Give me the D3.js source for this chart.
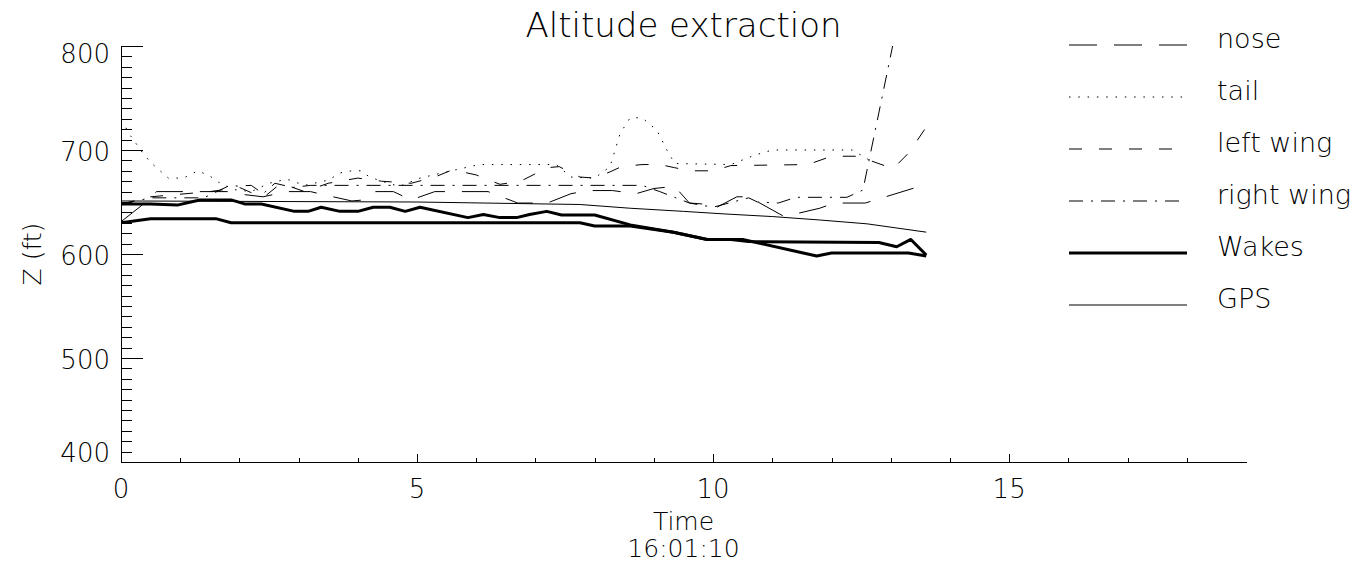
<!DOCTYPE html>
<html>
<head>
<meta charset="utf-8">
<script src="https://cdn.jsdelivr.net/npm/d3@7"></script>
<style>
  body { margin: 0; background: #fff; }
  text { font-family: "DejaVu Sans", sans-serif; font-weight: 200; fill: #000; }
</style>
</head>
<body>
<svg id="chart"></svg>
<script>
// values (time in s after 16:01:10, Z in ft)
var noseT = [0, 0.4, 0.6, 1.8, 2.1, 2.4, 2.8, 3.2, 3.5, 3.9, 4.1, 4.3, 4.6, 4.9, 5.3, 6.2, 6.7, 7.2, 7.6, 7.9, 8.3, 8.7, 9.0, 9.35, 9.6, 9.85, 10.0, 10.4, 10.6, 11.2, 11.8, 12.05, 12.57, 13.6]
var noseZ = [631, 649, 660, 660, 657, 655, 660, 660, 656, 651, 652, 660, 660, 652, 660, 660, 649, 649, 658, 661, 661, 658, 663, 665, 649, 648, 643, 655, 655, 636, 644, 649, 649, 667]

var tailT = [0, 0.17, 0.37, 0.5, 0.8, 1.05, 1.3, 1.5, 1.65, 1.9, 2.2, 2.5, 2.8, 3.1, 3.5, 3.7, 3.9, 4.05, 4.2, 4.4, 4.7, 5.05, 5.5, 6.05, 7.35, 7.6, 8.0, 8.26, 8.43, 8.6, 8.8, 9.05, 9.22, 9.35, 10.3, 10.7, 11.0, 12.35, 12.65]
var tailZ = [729, 713, 697, 688, 673, 673, 680, 675, 669, 662, 660, 668, 672, 666, 671, 678, 680, 680, 674, 670, 665, 673, 679, 686, 686, 674, 673, 684, 716, 731, 731, 719, 700, 687, 686, 695, 700, 700, 690]

var leftT = [0, 0.5, 1.5, 2.0, 2.4, 2.7, 3.1, 3.5, 4.0, 4.4, 4.9, 5.3, 5.6, 6.0, 6.4, 6.75, 7.2, 7.4, 7.75, 8.0, 8.26, 8.45, 8.8, 9.1, 9.35, 9.6, 10.0, 10.3, 11.6, 12.0, 12.45, 13.04, 13.3, 13.6]
var leftZ = [648, 655, 660, 664, 654, 668, 660, 668, 673, 670, 668, 674, 681, 676, 667, 670, 683, 684, 674, 673, 679, 684, 686, 686, 683, 680, 680, 685, 686, 694, 694, 682, 697, 722]

var rightT = [0, 0.5, 1.4, 1.8, 2.2, 2.4, 2.6, 2.9, 3.2, 8.8, 9.1, 9.6, 10.0, 10.6, 10.75, 11.1, 11.4, 12.26, 12.53, 13.05]
var rightZ = [648, 654, 654, 665, 666, 658, 668, 664, 666, 666, 660, 649, 645, 654, 650, 649, 654.5, 654.5, 661.5, 805]

var wakesAT = [0, 0.5, 1.6, 1.86, 7.75, 8.0, 8.6, 9.33, 9.9, 10.5, 11.75, 12.0, 13.3, 13.6]
var wakesAZ = [630, 634, 634, 630, 630, 627, 627, 621, 614, 614, 598, 601, 601, 598]

var wakesBT = [0, 0.5, 0.95, 1.33, 1.86, 2.1, 2.37, 2.93, 3.16, 3.38, 3.7, 4.0, 4.26, 4.54, 4.8, 5.05, 5.86, 6.12, 6.4, 6.68, 6.9, 7.19, 7.44, 8.0, 8.6, 9.33, 9.9, 10.3, 10.6, 12.8, 13.1, 13.34, 13.6]
var wakesBZ = [648, 648, 647, 652, 652, 648, 648, 641, 641, 645, 641, 641, 645, 645, 641, 645, 635, 638, 635, 635, 638, 641, 637.5, 637.5, 628, 621, 614, 614, 612, 611, 607, 614, 599]

var gpsT = [0, 5, 7.75, 8.6, 9.5, 10.2, 11.0, 11.8, 12.6, 13.6]
var gpsZ = [651, 650, 647.6, 644, 641, 638.5, 636, 632.7, 629, 621]

var yMajor = [400, 500, 600, 700, 800]
var xMajor = [0, 5, 10, 15]
var legendNames = ["nose", "tail", "left wing", "right wing", "Wakes", "GPS"]

const W = 1371, H = 574
const plot = { left: 121, right: 1246, top: 46, bottom: 462 }

const svg = d3.select("#chart").attr("width", W).attr("height", H)

const x = d3.scaleLinear().domain([0, 19]).range([plot.left, plot.right])
const y = d3.scaleLinear().domain([400, 800]).range([plot.bottom, plot.top])

// IDL style line styles
const styles = {
  "nose": { dash: "28,17", width: 1 },
  "tail": { dash: "1.5,7.8", width: 1 },
  "left wing": { dash: "13,17", width: 1 },
  "right wing": { dash: "14,8,2,8", width: 1 },
  "Wakes": { dash: null, width: 3 },
  "GPS": { dash: null, width: 1 }
}

function zip(ts, zs) { return ts.map((t, i) => ({ t: t, z: zs[i] })) }

const series = [
  { name: "nose", pts: zip(noseT, noseZ) },
  { name: "tail", pts: zip(tailT, tailZ) },
  { name: "left wing", pts: zip(leftT, leftZ) },
  { name: "right wing", pts: zip(rightT, rightZ) },
  { name: "Wakes", pts: zip(wakesAT, wakesAZ) },
  { name: "Wakes", pts: zip(wakesBT, wakesBZ) },
  { name: "GPS", pts: zip(gpsT, gpsZ) }
]

svg.append("clipPath").attr("id", "clip")
  .append("rect")
  .attr("x", plot.left).attr("y", plot.top)
  .attr("width", plot.right - plot.left).attr("height", plot.bottom - plot.top)

const line = d3.line().x(d => x(d.t)).y(d => y(d.z))

svg.append("g").attr("clip-path", "url(#clip)")
  .selectAll("path")
  .data(series)
  .join("path")
  .attr("d", d => line(d.pts))
  .attr("fill", "none")
  .attr("stroke", "#000")
  .attr("stroke-width", d => styles[d.name].width)
  .attr("stroke-dasharray", d => styles[d.name].dash)
  .attr("stroke-linejoin", "round")

// y axis: ticks point inward
const yMinor = d3.range(400, 801, 10).filter(v => v % 100 != 0)
svg.append("g")
  .attr("transform", `translate(${plot.left},0)`)
  .call(d3.axisLeft(y).tickValues(yMinor).tickSize(-11).tickSizeOuter(0).tickFormat(""))
svg.append("g")
  .attr("transform", `translate(${plot.left},0)`)
  .call(d3.axisLeft(y).tickValues(yMajor).tickSize(-22).tickSizeOuter(0).tickFormat(""))

// x axis
const xMinor = d3.range(0, 19, 1).filter(v => v % 5 != 0)
svg.append("g")
  .attr("transform", `translate(0,${plot.bottom})`)
  .call(d3.axisBottom(x).tickValues(xMinor).tickSize(-4).tickSizeOuter(0).tickFormat(""))
svg.append("g")
  .attr("transform", `translate(0,${plot.bottom})`)
  .call(d3.axisBottom(x).tickValues(xMajor).tickSize(-8).tickSizeOuter(0).tickFormat(""))

svg.selectAll(".domain, .tick line").attr("stroke", "#000").attr("shape-rendering", "crispEdges")

// tick labels
svg.selectAll(".ylab")
  .data(yMajor)
  .join("text")
  .attr("x", plot.left - 11)
  .attr("y", v => Math.max(plot.top + 8, Math.min(plot.bottom - 9, y(v) + 2)))
  .attr("text-anchor", "end")
  .attr("dominant-baseline", "central")
  .style("font-size", "26px")
  .text(v => v)

svg.selectAll(".xlab")
  .data(xMajor)
  .join("text")
  .attr("x", v => x(v))
  .attr("y", plot.bottom + 36)
  .attr("text-anchor", "middle")
  .style("font-size", "26px")
  .text(v => v)

const cx = (plot.left + plot.right) / 2
svg.append("text").attr("x", cx).attr("y", 37).attr("text-anchor", "middle")
  .style("font-size", "34px").text("Altitude extraction")
svg.append("text").attr("x", cx).attr("y", 530).attr("text-anchor", "middle")
  .style("font-size", "25px").text("Time")
svg.append("text").attr("x", cx).attr("y", 557).attr("text-anchor", "middle")
  .style("font-size", "25px").text("16:01:10")
svg.append("text")
  .attr("transform", `translate(41,${(plot.top + plot.bottom) / 2}) rotate(-90)`)
  .attr("text-anchor", "middle")
  .style("font-size", "25px").text("Z (ft)")

// legend
const leg = svg.append("g")
leg.selectAll("line")
  .data(legendNames)
  .join("line")
  .attr("x1", 1069).attr("x2", 1187)
  .attr("y1", (d, i) => 45 + 52 * i).attr("y2", (d, i) => 45 + 52 * i)
  .attr("stroke", "#000")
  .attr("stroke-width", d => styles[d].width)
  .attr("stroke-dasharray", d => styles[d].dash)
leg.selectAll("text")
  .data(legendNames)
  .join("text")
  .attr("x", 1217)
  .attr("y", (d, i) => 48 + 52 * i)
  .style("font-size", "27px")
  .text(d => d)
</script>
</body>
</html>
